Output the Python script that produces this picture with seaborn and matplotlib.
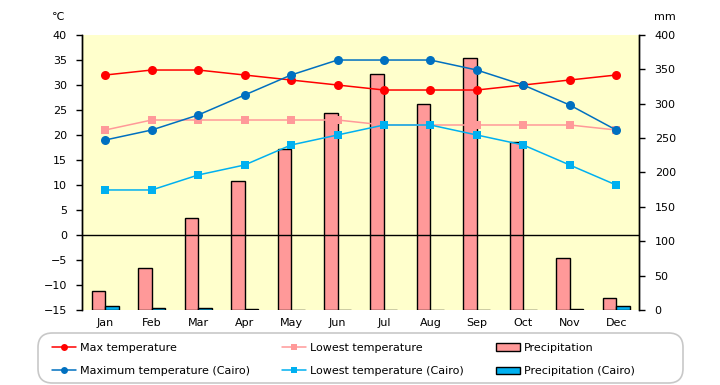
import numpy as np
import pandas as pd
import seaborn as sns
import matplotlib.pyplot as plt
from matplotlib.lines import Line2D
from matplotlib.patches import Patch, FancyBboxPatch

months = ['Jan', 'Feb', 'Mar', 'Apr', 'May', 'Jun',
          'Jul', 'Aug', 'Sep', 'Oct', 'Nov', 'Dec']

max_temp = [32, 33, 33, 32, 31, 30, 29, 29, 29, 30, 31, 32]
low_temp = [21, 23, 23, 23, 23, 23, 22, 22, 22, 22, 22, 21]
precip = [27, 61, 134, 187, 234, 287, 344, 300, 366, 245, 75, 18]

max_cairo = [19, 21, 24, 28, 32, 35, 35, 35, 33, 30, 26, 21]
low_cairo = [9, 9, 12, 14, 18, 20, 22, 22, 20, 18, 14, 10]
precip_cairo = [5, 3, 3, 1, 0, 0, 0, 0, 0, 0, 2, 5]

temp_ticks = list(range(-15, 41, 5))
mm_ticks = list(range(0, 401, 50))

C_RED = '#FF0000'
C_PINK = '#FF9999'
C_BLUE = '#0070C0'
C_CYAN = '#00B0F0'

sns.set_style('white')
plt.rcParams['font.family'] = ['DejaVu Sans', 'Noto Sans CJK JP']
plt.rcParams['text.color'] = 'black'
plt.rcParams['xtick.color'] = 'black'
plt.rcParams['ytick.color'] = 'black'

W, H = 720, 385
fig = plt.figure(figsize=(7.2, 3.85), dpi=100)
ax_bar = fig.add_axes([0.114, 0.195, 0.774, 0.714])
ax_bar.set_facecolor('#FFFFCC')

# precipitation bars (right axis)
bars = pd.DataFrame({
    'month': months * 2,
    'mm': precip + precip_cairo,
    'series': ['Precipitation'] * 12 + ['Precipitation (Cairo)'] * 12,
})
sns.barplot(data=bars, x='month', y='mm', hue='series', order=months,
            palette=[C_PINK, C_CYAN], edgecolor='black', linewidth=1,
            width=0.58, saturation=1, ax=ax_bar, legend=False)
ax_bar.set_ylim(0, 400)
ax_bar.set_yticks(mm_ticks)
ax_bar.set_xlim(-0.5, 11.5)
ax_bar.set_xlabel('')
ax_bar.set_ylabel('')

# temperatures (left axis), drawn on top of the bars
ax_t = ax_bar.twinx()
ax_t.patch.set_visible(False)
x = np.arange(12)
ax_t.axhline(0, color='black', lw=1, zorder=1)
lines = [
    (max_temp, C_RED, 'o'),
    (low_temp, C_PINK, 's'),
    (max_cairo, C_BLUE, 'o'),
    (low_cairo, C_CYAN, 's'),
]
for vals, col, mk in lines:
    sns.lineplot(x=x, y=vals, color=col, marker=mk, markersize=6.5 if mk == 'o' else 6,
                 markeredgewidth=0, lw=1.1, ax=ax_t, legend=False)
ax_t.set_ylim(-15, 40)
ax_t.set_yticks(temp_ticks)
ax_t.set_xlim(-0.5, 11.5)

# swap sides: temperature on the left, mm on the right
ax_bar.yaxis.tick_right()
ax_t.yaxis.tick_left()

for a in (ax_bar, ax_t):
    for s in ('top', 'bottom'):
        a.spines[s].set_visible(False)
    for s in ('left', 'right'):
        a.spines[s].set_color('black')
        a.spines[s].set_linewidth(1)
    a.tick_params(axis='y', direction='out', length=4, width=1, color='black',
                  labelsize=8, pad=7, labelcolor='black')
ax_bar.tick_params(axis='x', length=0, labelsize=8, pad=6, labelcolor='black')
ax_t.tick_params(axis='x', length=0, labelbottom=False)

fig.text(0.072, 0.955, '℃', fontsize=8, ha='left', va='center')
fig.text(0.908, 0.955, 'mm', fontsize=8, ha='left', va='center')

# legend frame
frame = FancyBboxPatch((38 / W, 1 - 383 / H), (683 - 38) / W, (383 - 333) / H,
                       boxstyle='round,pad=0,rounding_size=0.02',
                       transform=fig.transFigure, facecolor='white',
                       edgecolor='#C8C8C8', linewidth=1.2, mutation_aspect=W / H)
fig.patches.append(frame)

# legend, filled column by column
handles = [
    Line2D([], [], color=C_RED, marker='o', markersize=5, markeredgewidth=0, lw=1.1),
    Line2D([], [], color=C_BLUE, marker='o', markersize=5, markeredgewidth=0, lw=1.1),
    Line2D([], [], color=C_PINK, marker='s', markersize=5, markeredgewidth=0, lw=1.1),
    Line2D([], [], color=C_CYAN, marker='s', markersize=5, markeredgewidth=0, lw=1.1),
    Patch(facecolor=C_PINK, edgecolor='black', linewidth=1),
    Patch(facecolor=C_CYAN, edgecolor='black', linewidth=1),
]
labels = ['Max temperature', 'Maximum temperature (Cairo)',
          'Lowest temperature', 'Lowest temperature (Cairo)',
          'Precipitation', 'Precipitation (Cairo)']
fig.legend(handles, labels, ncol=3, loc='upper left',
           bbox_to_anchor=(52 / W, 1 - 343 / H),
           fontsize=8, frameon=False, handlelength=2.2, handletextpad=0.3,
           labelspacing=1.2, columnspacing=2.9, borderaxespad=0, borderpad=0)

fig.savefig('out.png', dpi=100)
